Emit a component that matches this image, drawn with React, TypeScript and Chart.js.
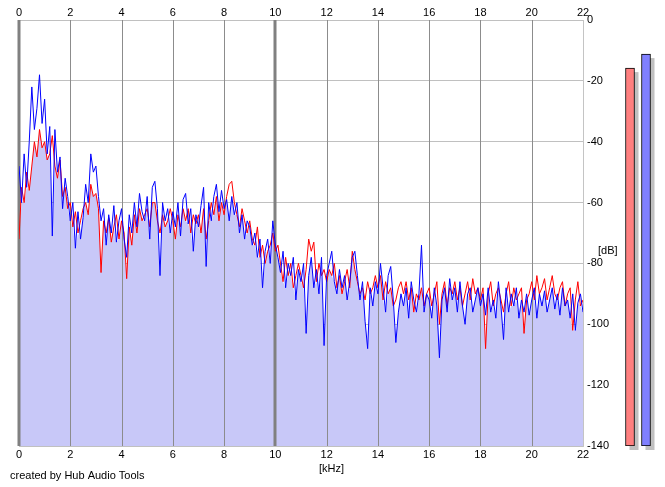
import { useEffect, useRef } from "react";
import { Chart, registerables } from "chart.js";

Chart.register(...registerables);

// ---- data ----
const FREQ_STEP_KHZ = 0.1; // one value every 0.1 kHz, 0 .. 22 kHz

// left channel (red)
const leftChannelDb = [
  -72, -55, -60, -50, -56, -48, -40, -45, -36, -42,
  -40, -46, -44, -38, -48, -52, -46, -58, -55, -62,
  -60, -68, -63, -70, -66, -62, -60, -64, -54, -58,
  -57, -62, -83, -66, -70, -65, -73, -68, -64, -72,
  -66, -70, -85, -68, -74, -64, -70, -62, -66, -64,
  -62, -68, -60, -60, -66, -70, -64, -68, -66, -62,
  -66, -72, -64, -68, -62, -66, -62, -70, -64, -67,
  -64, -70, -62, -72, -66, -60, -64, -58, -66, -60,
  -64, -58, -54, -53, -60, -64, -68, -62, -66, -70,
  -66, -72, -74, -68, -78, -74, -80, -76, -74, -70,
  -76, -74, -80, -86, -78, -84, -80, -88, -84, -80,
  -84, -88, -82, -72, -76, -73, -86, -80, -84, -82,
  -86, -82, -84, -80, -88, -84, -90, -86, -82, -88,
  -76, -82, -86, -90, -88, -92, -86, -90, -88, -84,
  -88, -84, -92, -86, -90, -88, -94, -92, -88, -86,
  -90, -86, -92, -88, -96, -90, -92, -88, -94, -90,
  -88, -94, -90, -86, -100, -90, -86, -94, -88, -90,
  -86, -92, -88, -94, -90, -86, -92, -85, -90, -88,
  -92, -88, -108, -90, -86, -94, -90, -88, -92, -96,
  -90, -86, -94, -88, -92, -90, -88, -103, -92, -90,
  -86, -92, -84, -90, -88, -85, -92, -88, -84, -90,
  -92, -88, -86, -94, -90, -88, -102, -92, -86, -94,
  -92,
];

// right channel (blue)
const rightChannelDb = [
  -48, -60, -44, -55, -40, -22, -36, -29, -18, -34,
  -26, -44, -35, -71, -36, -50, -45, -62, -52, -58,
  -66, -60, -75, -63, -72, -65, -54, -60, -44, -50,
  -48, -58, -66, -62, -74, -64, -70, -61, -73, -66,
  -62, -72, -78, -64, -70, -60, -68, -57, -63, -66,
  -58, -72, -55, -53, -62, -84, -60, -66, -62, -70,
  -63, -68, -60, -71, -59, -57, -67, -62, -76, -64,
  -68, -61, -55, -81, -60, -66, -58, -54, -63, -56,
  -62, -59, -66, -58, -64, -60, -70, -64, -72, -66,
  -68, -74, -70, -78, -72, -88, -76, -72, -80, -66,
  -74, -78, -83, -76, -88, -80, -84, -78, -92, -82,
  -86, -80, -103, -84, -78, -88, -82, -90, -78, -107,
  -84, -80, -76, -86, -90, -82, -88, -84, -92, -86,
  -78, -76, -84, -92, -86, -99, -108, -88, -94, -86,
  -90, -80, -88, -96, -84, -81, -92, -106, -96, -90,
  -94, -88, -98, -86, -92, -96, -90, -74, -96, -90,
  -92, -98, -88, -94, -111, -92, -88, -96, -85, -92,
  -88, -96, -86, -94, -100, -90, -88, -96, -92, -88,
  -94, -90, -97, -88, -96, -92, -98, -86, -94, -105,
  -88, -96, -90, -94, -88, -98, -92, -96, -90, -97,
  -92, -88, -98, -90, -94, -89, -96, -92, -88, -95,
  -90, -97, -88, -94, -92, -98, -90, -102, -93, -90,
  -96,
];

const xTicksKHz = [0, 2, 4, 6, 8, 10, 12, 14, 16, 18, 20, 22];
const yTicksDb = [0, -20, -40, -60, -80, -100, -120, -140];

const meterLabels = ["L", "R"];
const meterPeakDb = [-15.8, -11.2];
const METER_FLOOR_DB = -140;

const FONT = '"Liberation Sans", Arial, sans-serif';

export default function App() {
  const mainRef = useRef<HTMLCanvasElement | null>(null);
  const meterRef = useRef<HTMLCanvasElement | null>(null);

  useEffect(() => {
    if (!mainRef.current || !meterRef.current) return;
    Chart.defaults.font.family = FONT;
    Chart.defaults.font.size = 11;
    Chart.defaults.color = "#000";

    const toPoints = (arr: number[]) =>
      arr.map((v, i) => ({ x: +(i * FREQ_STEP_KHZ).toFixed(2), y: v }));
    const envelope = leftChannelDb.map((v, i) => Math.min(v, rightChannelDb[i]));

    const verticalGrid = {
      id: "verticalGrid",
      afterDatasetDraw(chart: any, args: any) {
        if (args.index !== 0) return;
        const ctx = chart.ctx;
        const xs = chart.scales.x;
        const { top, bottom } = chart.chartArea;
        ctx.save();
        for (const v of xTicksKHz) {
          const px = xs.getPixelForValue(v);
          const major = v === 0 || v === 10;
          const edge = v === xTicksKHz[xTicksKHz.length - 1];
          ctx.lineWidth = major ? 3 : 1;
          ctx.strokeStyle = major ? "#808080" : edge ? "#c4c4c4" : "#8c8c8c";
          const xx = major ? Math.round(px) : Math.round(px) + 0.5;
          ctx.beginPath();
          ctx.moveTo(xx, top);
          ctx.lineTo(xx, bottom);
          ctx.stroke();
        }
        ctx.restore();
      },
    };

    const labelsPlugin = {
      id: "extraLabels",
      afterDraw(chart: any) {
        const ctx = chart.ctx;
        ctx.save();
        ctx.font = `11px ${FONT}`;
        ctx.fillStyle = "#000";
        ctx.textBaseline = "alphabetic";
        ctx.textAlign = "left";
        ctx.fillText("[kHz]", 319, 472);
        ctx.fillText("[dB]", 598, 254);
        ctx.fillText("created by Hub Audio Tools", 10, 479);
        ctx.restore();
      },
    };

    const main = new Chart(mainRef.current, {
      type: "line",
      data: {
        datasets: [
          {
            label: "level",
            data: toPoints(envelope),
            borderWidth: 0,
            borderColor: "rgba(0,0,0,0)",
            backgroundColor: "#c8c8f8",
            fill: "start",
            pointRadius: 0,
            tension: 0,
            order: 3,
          },
          {
            label: "L",
            data: toPoints(leftChannelDb),
            borderWidth: 1,
            borderColor: "#ff0000",
            pointRadius: 0,
            tension: 0,
            fill: false,
            order: 2,
          },
          {
            label: "R",
            data: toPoints(rightChannelDb),
            borderWidth: 1,
            borderColor: "#0000ff",
            pointRadius: 0,
            tension: 0,
            fill: false,
            order: 1,
          },
        ],
      },
      options: {
        responsive: false,
        animation: false,
        events: [],
        layout: { padding: { left: 19, right: 0, top: 0, bottom: 0 } },
        plugins: { legend: { display: false }, tooltip: { enabled: false } },
        scales: {
          x: {
            type: "linear",
            position: "bottom",
            min: 0,
            max: 22,
            afterBuildTicks: (s: any) => {
              s.ticks = xTicksKHz.map((v) => ({ value: v }));
            },
            afterFit: (s: any) => {
              s.height = 41;
            },
            grid: { display: false, drawTicks: false },
            border: { display: false },
            ticks: { padding: 2, maxRotation: 0, autoSkip: false, font: { size: 11 } },
          },
          x2: {
            type: "linear",
            position: "top",
            min: 0,
            max: 22,
            afterBuildTicks: (s: any) => {
              s.ticks = xTicksKHz.map((v) => ({ value: v }));
            },
            afterFit: (s: any) => {
              s.height = 20;
            },
            grid: { display: false, drawTicks: false },
            border: { display: false },
            ticks: { padding: 0, maxRotation: 0, autoSkip: false, font: { size: 11 } },
          },
          y: {
            type: "linear",
            position: "right",
            min: -140,
            max: 0,
            afterBuildTicks: (s: any) => {
              s.ticks = yTicksDb.map((v) => ({ value: v }));
            },
            afterFit: (s: any) => {
              s.width = 82;
            },
            grid: { color: "#c0c0c0", lineWidth: 1, drawTicks: false },
            border: { display: true, color: "#c4c4c4" },
            ticks: { padding: 4, font: { size: 11 } },
          },
        },
      },
      plugins: [verticalGrid, labelsPlugin],
    });

    const shadowPlugin = {
      id: "meterShadow",
      beforeDatasetsDraw(chart: any) {
        const ctx = chart.ctx;
        const meta = chart.getDatasetMeta(0);
        ctx.save();
        ctx.fillStyle = "#c0c0c0";
        meta.data.forEach((el: any) => {
          const { x, y, base, width } = el.getProps(["x", "y", "base", "width"], true);
          const top = Math.min(y, base);
          const h = Math.abs(base - y);
          ctx.fillRect(x - width / 2 + 4, top + 4, width, h);
        });
        ctx.restore();
      },
    };

    const meter = new Chart(meterRef.current, {
      type: "bar",
      data: {
        labels: meterLabels,
        datasets: [
          {
            data: meterPeakDb.map((v) => [METER_FLOOR_DB, v]),
            backgroundColor: ["#ff8080", "#8080ff"],
            borderColor: "#000000",
            borderWidth: 1,
            borderSkipped: false,
            barThickness: 9,
          },
        ],
      },
      options: {
        responsive: false,
        animation: false,
        events: [],
        layout: { padding: { left: 2, right: 6, top: 20, bottom: 41 } },
        plugins: { legend: { display: false }, tooltip: { enabled: false } },
        scales: {
          x: { display: false },
          y: { display: false, min: METER_FLOOR_DB, max: 0 },
        },
      },
      plugins: [shadowPlugin],
    });

    return () => {
      main.destroy();
      meter.destroy();
    };
  }, []);

  return (
    <div
      style={{
        position: "absolute",
        left: 0,
        top: 0,
        width: 665,
        height: 487,
        background: "#fff",
        overflow: "hidden",
      }}
    >
      <canvas
        ref={mainRef}
        width={665}
        height={487}
        style={{ position: "absolute", left: 0, top: 0 }}
      />
      <canvas
        ref={meterRef}
        width={40}
        height={487}
        style={{ position: "absolute", left: 620, top: 0 }}
      />
    </div>
  );
}
